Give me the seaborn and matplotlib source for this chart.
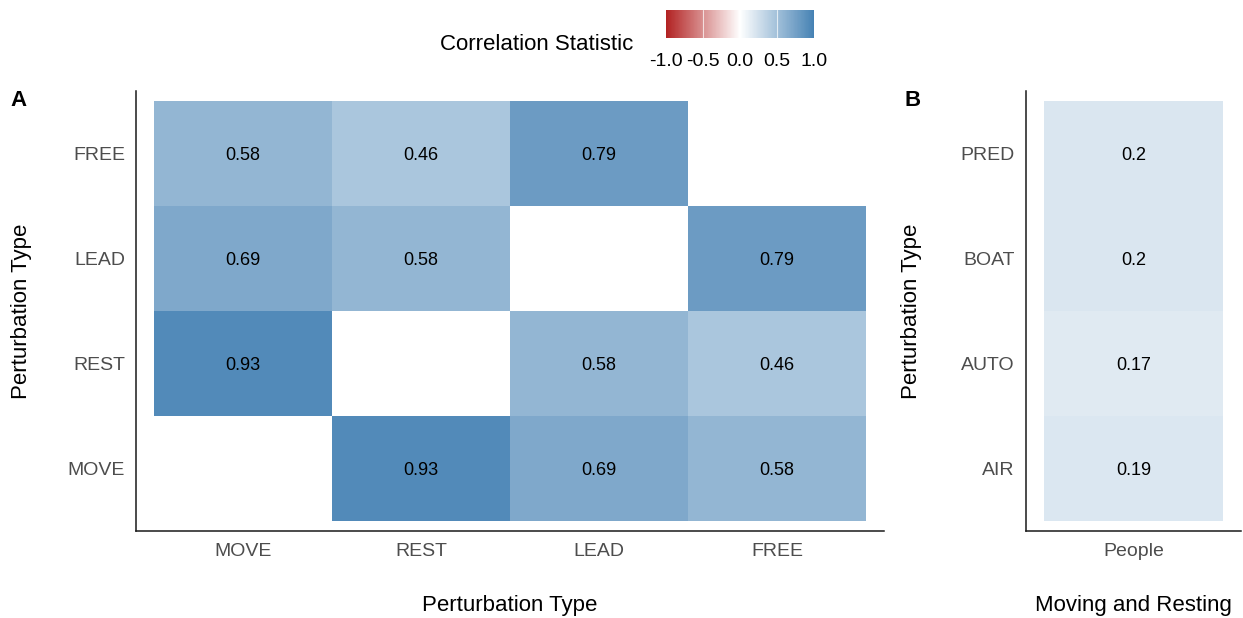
import numpy as np
import pandas as pd
import seaborn as sns
import matplotlib.pyplot as plt
from matplotlib.colors import LinearSegmentedColormap

# Panel A: pairwise correlations between perturbation types
col_types = ["MOVE", "REST", "LEAD", "FREE"]
row_types = ["FREE", "LEAD", "REST", "MOVE"]
row_free = [0.58, 0.46, 0.79, np.nan]
row_lead = [0.69, 0.58, np.nan, 0.79]
row_rest = [0.93, np.nan, 0.58, 0.46]
row_move = [np.nan, 0.93, 0.69, 0.58]

# Panel B: correlation with people moving and resting
b_types = ["PRED", "BOAT", "AUTO", "AIR"]
b_columns = ["People"]
b_values = [0.2, 0.2, 0.17, 0.19]

cbar_ticks = [-1.0, -0.5, 0.0, 0.5, 1.0]
cbar_labels = ["-1.0", "-0.5", "0.0", "0.5", "1.0"]

sns.set_theme(style="white")
plt.rcParams["font.family"] = ["Liberation Sans", "DejaVu Sans"]

W, H = 1243, 618
fig = plt.figure(figsize=(W / 100, H / 100), dpi=100)


def box(x0, y0, x1, y1):
    return [x0 / W, 1 - y1 / H, (x1 - x0) / W, (y1 - y0) / H]


ax_a = fig.add_axes(box(136, 91, 884, 531))
ax_b = fig.add_axes(box(1026, 91, 1241, 531))
cax = fig.add_axes(box(666, 10, 814, 38))

cmap = LinearSegmentedColormap.from_list("corr", ["#B22222", "#FFFFFF", "#4682B4"])

mat_a = pd.DataFrame([row_free, row_lead, row_rest, row_move],
                     index=row_types, columns=col_types)
mat_b = pd.DataFrame({b_columns[0]: b_values}, index=b_types)

annot_kws = {"color": "black", "fontsize": 13, "va": "center_baseline"}

sns.heatmap(mat_a, ax=ax_a, cmap=cmap, vmin=-1, vmax=1, annot=True, fmt="g",
            annot_kws=annot_kws, cbar=True, cbar_ax=cax,
            cbar_kws={"orientation": "horizontal", "ticks": cbar_ticks})
sns.heatmap(mat_b, ax=ax_b, cmap=cmap, vmin=-1, vmax=1, annot=True, fmt="g",
            annot_kws=annot_kws, cbar=False)

for ax, ncol in ((ax_a, 4), (ax_b, 1)):
    ax.set_xlim(-0.1, ncol + 0.1)
    ax.set_ylim(4.1, -0.1)
    for side in ("left", "bottom"):
        ax.spines[side].set_visible(True)
        ax.spines[side].set_color("#1a1a1a")
        ax.spines[side].set_linewidth(1.1)
    for side in ("top", "right"):
        ax.spines[side].set_visible(False)
    ax.tick_params(axis="both", length=0, labelsize=14, labelcolor="#4D4D4D")
    ax.tick_params(axis="x", pad=9)
    ax.tick_params(axis="y", pad=8)
    plt.setp(ax.get_yticklabels(), rotation=0, va="center_baseline")
    plt.setp(ax.get_xticklabels(), rotation=0)
    ax.set_ylabel("Perturbation Type", fontsize=16, color="black")

ax_a.set_xlabel("Perturbation Type", fontsize=16, color="black")
ax_b.set_xlabel("Moving and Resting", fontsize=16, color="black")
ax_a.xaxis.set_label_coords(0.5, -0.145)
ax_b.xaxis.set_label_coords(0.5, -0.145)
ax_a.yaxis.set_label_coords(-(136 - 32) / 748, 0.5)
ax_b.yaxis.set_label_coords(-(1026 - 922) / 215, 0.5)

# Colour bar styling
cbar = ax_a.collections[0].colorbar
cbar.outline.set_visible(False)
cbar.set_ticks(cbar_ticks)
cbar.set_ticklabels(cbar_labels)
cax.tick_params(length=0, labelsize=14, pad=11, labelcolor="black")
for t in cbar_ticks[1:-1]:
    cax.axvline(t, color="white", lw=0.8, alpha=0.7)
fig.text(633 / W, 1 - 44 / H, "Correlation Statistic", fontsize=16,
         ha="right", va="center", color="black")

# Panel tags
fig.text(10 / W, 1 - 101 / H, "A", fontsize=16, fontweight="bold", va="center",
         color="black")
fig.text(904 / W, 1 - 101 / H, "B", fontsize=16, fontweight="bold", va="center",
         color="black")

fig.savefig("out.png", dpi=100)
